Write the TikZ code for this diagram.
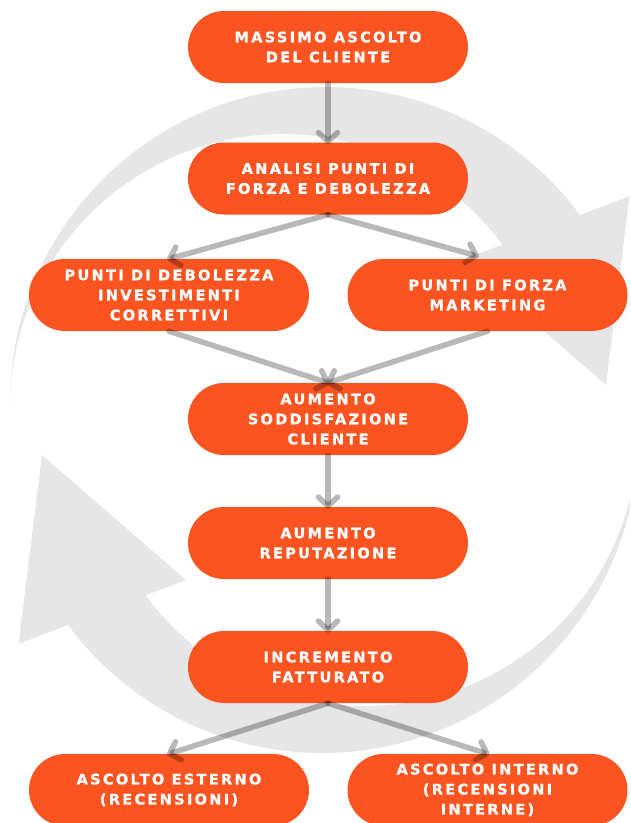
\documentclass[tikz,border=0pt]{standalone}
\usepackage{fontspec}
\newfontfamily\boxfont{DejaVu Sans}[LetterSpace=16, BoldFeatures={FakeBold=1.2}]
\usetikzlibrary{arrows.meta}
\definecolor{ringgray}{HTML}{E6E6E6}
\definecolor{boxorange}{HTML}{FB5420}

\begin{document}
\begin{tikzpicture}[x=1pt, y=1pt,
    box/.style={fill=boxorange, rounded corners=36pt, minimum width=280pt, minimum height=72pt,
      inner sep=0pt, text=white, align=center, font=\boxfont\bfseries\fontsize{14.5}{20}\selectfont},
    flow/.style={draw=black, draw opacity=0.28, line width=5.5pt, line cap=round,
      -{Straight Barb[length=9pt,width=19pt,round]}}]
    \useasboundingbox (0,0) rectangle (630,-823);
    \clip (0,0) rectangle (630,-823);
    \foreach \turn in {0,180} {
        \fill[ringgray, rotate around={\turn:(324,-420)}] (10,-403) arc[start angle=180, end angle=36.5, radius=316]
            -- (629.5,-196) -- (606,-385) -- (462,-260) -- (502.4,-244.6)
            arc[start angle=36.5, end angle=180, radius=273] -- cycle;
    }
    \node[box] (ascolto) at (328,-47) {MASSIMO ASCOLTO\\DEL CLIENTE};
    \node[box] (analisi) at (328,-178.5) {ANALISI PUNTI DI\\FORZA E DEBOLEZZA};
    \node[box] (debolezza) at (169,-295) {PUNTI DI DEBOLEZZA\\INVESTIMENTI\\CORRETTIVI};
    \node[box] (forza) at (487.5,-295) {PUNTI DI FORZA\\MARKETING};
    \node[box] (soddisfazione) at (328,-419) {AUMENTO\\SODDISFAZIONE\\CLIENTE};
    \node[box] (reputazione) at (328,-543) {AUMENTO\\REPUTAZIONE};
    \node[box] (fatturato) at (328,-667) {INCREMENTO\\FATTURATO};
    \node[box] (esterno) at (169,-790) {ASCOLTO ESTERNO\\(RECENSIONI)};
    \node[box] (interno) at (487.5,-790) {ASCOLTO INTERNO\\(RECENSIONI\\INTERNE)};
    \draw[flow, shorten >=-2pt] (ascolto) -- (analisi);
    \draw[flow, shorten >=-2pt] (analisi.south) -- (debolezza.north);
    \draw[flow, shorten >=9pt] (analisi.south) -- (forza.north);
    \draw[flow, shorten >=-2pt] (debolezza.south) -- (soddisfazione.north);
    \draw[flow, shorten >=-2pt] (forza.south) -- (soddisfazione.north);
    \draw[flow, shorten >=-2pt] (soddisfazione) -- (reputazione);
    \draw[flow, shorten >=-2pt] (reputazione) -- (fatturato);
    \draw[flow, shorten >=-2pt] (fatturato.south) -- (esterno.north);
    \draw[flow, shorten >=-2pt] (fatturato.south) -- (interno.north);
\end{tikzpicture}
\end{document}
